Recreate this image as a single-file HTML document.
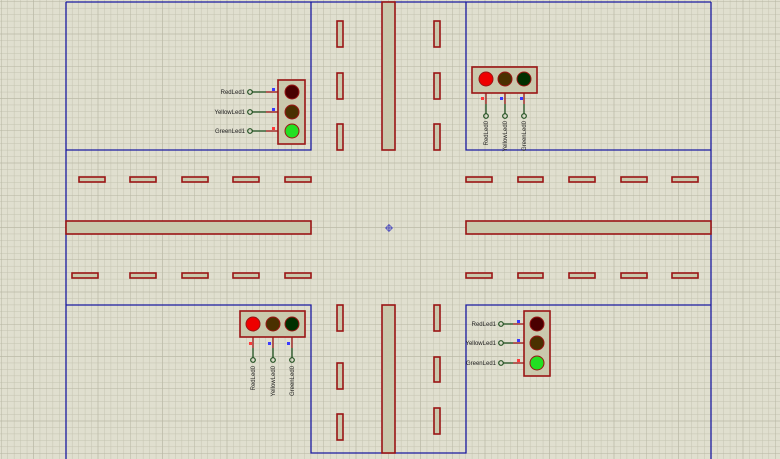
<!DOCTYPE html>
<html><head><meta charset="utf-8"><style>
html,body{margin:0;padding:0;background:#e0dfcf;}
svg{display:block}
text{font-family:"Liberation Sans",sans-serif;font-size:6px;fill:#222}
</style></head><body>
<svg width="780" height="459" viewBox="0 0 780 459" xmlns="http://www.w3.org/2000/svg">
<defs>
<pattern id="mi" x="1" y="1.5" width="6.45" height="6.45" patternUnits="userSpaceOnUse">
<path d="M0 0H6.45M0 0V6.45" stroke="#c4c3b0" stroke-width="1" fill="none"/>
</pattern>
<pattern id="ma" x="1" y="1.5" width="32.25" height="32.25" patternUnits="userSpaceOnUse">
<path d="M0 0H32.25M0 0V32.25" stroke="#b6b5a2" stroke-width="1" fill="none"/>
</pattern>
</defs>
<rect width="780" height="459" fill="#e0dfcf"/>
<rect width="780" height="459" fill="url(#mi)"/>
<rect width="780" height="459" fill="url(#ma)"/>

<g stroke="#1a1aa0" stroke-width="1.3" fill="none">
<path d="M66 2H711M66 2V459M711 2V459"/>
<path d="M66 150H311V2M466 2V150H711"/>
<path d="M66 305H311V453H466V305H711"/>
</g>

<g fill="#cac9ad" stroke="#9a1515" stroke-width="1.6">
<rect x="382" y="2" width="13" height="148"/>
<rect x="382" y="305" width="13" height="148"/>
<rect x="66" y="221" width="245" height="13"/>
<rect x="466" y="221" width="245" height="13"/>
<rect x="337" y="21" width="6" height="26"/><rect x="337" y="73" width="6" height="26"/><rect x="337" y="124" width="6" height="26"/>
<rect x="434" y="21" width="6" height="26"/><rect x="434" y="73" width="6" height="26"/><rect x="434" y="124" width="6" height="26"/>
<rect x="337" y="305" width="6" height="26"/><rect x="337" y="363" width="6" height="26"/><rect x="337" y="414" width="6" height="26"/>
<rect x="434" y="305" width="6" height="26"/><rect x="434" y="357" width="6" height="25"/><rect x="434" y="408" width="6" height="26"/>
<rect x="79" y="177" width="26" height="5"/><rect x="130" y="177" width="26" height="5"/><rect x="182" y="177" width="26" height="5"/><rect x="233" y="177" width="26" height="5"/><rect x="285" y="177" width="26" height="5"/>
<rect x="466" y="177" width="26" height="5"/><rect x="518" y="177" width="25" height="5"/><rect x="569" y="177" width="26" height="5"/><rect x="621" y="177" width="26" height="5"/><rect x="672" y="177" width="26" height="5"/>
<rect x="72" y="273" width="26" height="5"/><rect x="130" y="273" width="26" height="5"/><rect x="182" y="273" width="26" height="5"/><rect x="233" y="273" width="26" height="5"/><rect x="285" y="273" width="26" height="5"/>
<rect x="466" y="273" width="26" height="5"/><rect x="518" y="273" width="25" height="5"/><rect x="569" y="273" width="26" height="5"/><rect x="621" y="273" width="26" height="5"/><rect x="672" y="273" width="26" height="5"/>
</g>

<g stroke="#5050c0" stroke-width="1" fill="none"><circle cx="389" cy="228" r="2.5"/><path d="M385 228H393M389 224V232"/></g>

<g>
<rect x="278" y="80" width="27" height="64" fill="#cac9ad" stroke="#9a1515" stroke-width="1.6"/>
<circle cx="292" cy="92" r="7" fill="#4a0000" stroke="#9a1515"/>
<circle cx="292" cy="112" r="7" fill="#4a3000" stroke="#9a1515"/>
<circle cx="292" cy="131" r="7" fill="#22e022" stroke="#9a1515"/>
<g stroke-width="1.3"><path d="M252 92H266" stroke="#205020"/><path d="M266 92H278" stroke="#9a1515"/>
<path d="M252 112H266" stroke="#205020"/><path d="M266 112H278" stroke="#9a1515"/>
<path d="M252 131H266" stroke="#205020"/><path d="M266 131H278" stroke="#9a1515"/></g>
<g fill="none" stroke="#205020" stroke-width="1.2"><circle cx="250" cy="92" r="2.3"/><circle cx="250" cy="112" r="2.3"/><circle cx="250" cy="131" r="2.3"/></g>
<rect x="272" y="88" width="3" height="3" fill="#3a3aff"/><rect x="272" y="108" width="3" height="3" fill="#3a3aff"/><rect x="272" y="127" width="3" height="3" fill="#ff3a3a"/>
<text x="245" y="94" text-anchor="end">RedLed1</text><text x="245" y="114" text-anchor="end">YellowLed1</text><text x="245" y="133" text-anchor="end">GreenLed1</text>
</g>

<g>
<rect x="524" y="311" width="26" height="65" fill="#cac9ad" stroke="#9a1515" stroke-width="1.6"/>
<circle cx="537" cy="324" r="7" fill="#4a0000" stroke="#9a1515"/>
<circle cx="537" cy="343" r="7" fill="#4a3000" stroke="#9a1515"/>
<circle cx="537" cy="363" r="7" fill="#22e022" stroke="#9a1515"/>
<g stroke-width="1.3"><path d="M503 324H513" stroke="#205020"/><path d="M513 324H524" stroke="#9a1515"/>
<path d="M503 343H513" stroke="#205020"/><path d="M513 343H524" stroke="#9a1515"/>
<path d="M503 363H513" stroke="#205020"/><path d="M513 363H524" stroke="#9a1515"/></g>
<g fill="none" stroke="#205020" stroke-width="1.2"><circle cx="501" cy="324" r="2.3"/><circle cx="501" cy="343" r="2.3"/><circle cx="501" cy="363" r="2.3"/></g>
<rect x="517" y="320" width="3" height="3" fill="#3a3aff"/><rect x="517" y="339" width="3" height="3" fill="#3a3aff"/><rect x="517" y="359" width="3" height="3" fill="#ff3a3a"/>
<text x="496" y="326" text-anchor="end">RedLed1</text><text x="496" y="345" text-anchor="end">YellowLed1</text><text x="496" y="365" text-anchor="end">GreenLed1</text>
</g>

<g>
<rect x="472" y="67" width="65" height="26" fill="#cac9ad" stroke="#9a1515" stroke-width="1.6"/>
<circle cx="486" cy="79" r="7" fill="#ee0000" stroke="#9a1515"/>
<circle cx="505" cy="79" r="7" fill="#4a3000" stroke="#9a1515"/>
<circle cx="524" cy="79" r="7" fill="#003000" stroke="#9a1515"/>
<g stroke-width="1.3"><path d="M486 93V104M505 93V104M524 93V104" stroke="#9a1515"/><path d="M486 104V114M505 104V114M524 104V114" stroke="#205020"/></g>
<g fill="none" stroke="#205020" stroke-width="1.2"><circle cx="486" cy="116" r="2.3"/><circle cx="505" cy="116" r="2.3"/><circle cx="524" cy="116" r="2.3"/></g>
<rect x="481" y="97" width="3" height="3" fill="#ff3a3a"/><rect x="500" y="97" width="3" height="3" fill="#3a3aff"/><rect x="520" y="97" width="3" height="3" fill="#3a3aff"/>
<text transform="translate(488,121) rotate(-90)" text-anchor="end">RedLed0</text>
<text transform="translate(507,121) rotate(-90)" text-anchor="end">YellowLed0</text>
<text transform="translate(526,121) rotate(-90)" text-anchor="end">GreenLed0</text>
</g>

<g>
<rect x="240" y="311" width="65" height="26" fill="#cac9ad" stroke="#9a1515" stroke-width="1.6"/>
<circle cx="253" cy="324" r="7" fill="#ee0000" stroke="#9a1515"/>
<circle cx="273" cy="324" r="7" fill="#4a3000" stroke="#9a1515"/>
<circle cx="292" cy="324" r="7" fill="#003000" stroke="#9a1515"/>
<g stroke-width="1.3"><path d="M253 337V348M273 337V348M292 337V348" stroke="#9a1515"/><path d="M253 348V358M273 348V358M292 348V358" stroke="#205020"/></g>
<g fill="none" stroke="#205020" stroke-width="1.2"><circle cx="253" cy="360" r="2.3"/><circle cx="273" cy="360" r="2.3"/><circle cx="292" cy="360" r="2.3"/></g>
<rect x="249" y="342" width="3" height="3" fill="#ff3a3a"/><rect x="268" y="342" width="3" height="3" fill="#3a3aff"/><rect x="287" y="342" width="3" height="3" fill="#3a3aff"/>
<text transform="translate(255,366) rotate(-90)" text-anchor="end">RedLed0</text>
<text transform="translate(275,366) rotate(-90)" text-anchor="end">YellowLed0</text>
<text transform="translate(294,366) rotate(-90)" text-anchor="end">GreenLed0</text>
</g>
</svg>
</body></html>
